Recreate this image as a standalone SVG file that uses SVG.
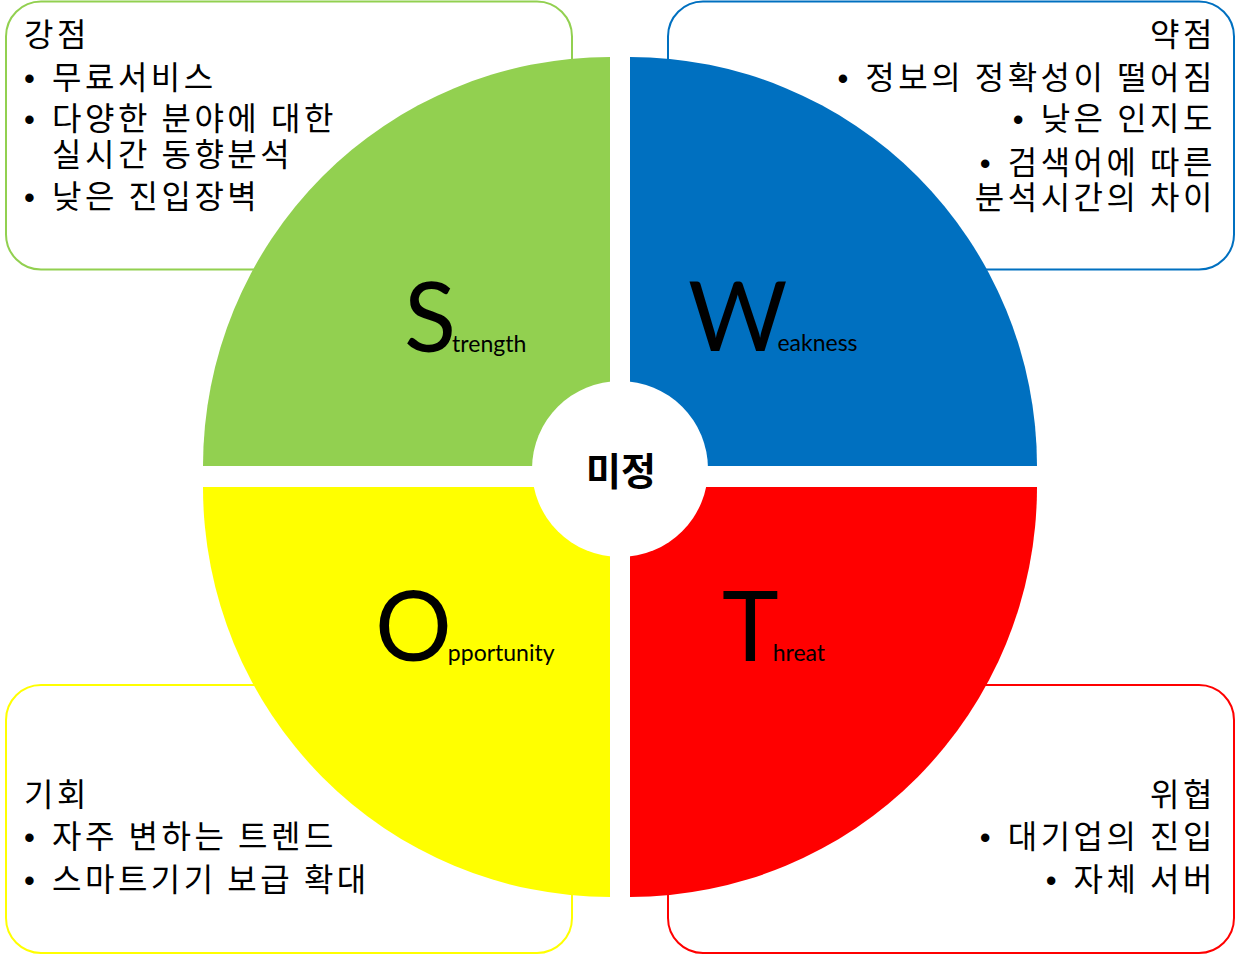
<svg xmlns="http://www.w3.org/2000/svg" width="1237" height="955" viewBox="0 0 1237 955">
  <style>
    .box { fill: #FFFFFF; stroke-width: 2; }
    .kr { font-family: "Noto Sans CJK KR", "Noto Sans", sans-serif; font-size: 32px; letter-spacing: 3.5px; fill: #000000; }
    .bul { font-family: "Liberation Sans", sans-serif; font-size: 31px; letter-spacing: 0px; fill: #000000; }
    .big { font-family: Lato, "Liberation Sans", sans-serif; font-size: 96px; fill: #000000; }
    .small { font-size: 23px; }
    .center { font-family: "Noto Sans CJK KR", sans-serif; font-size: 38px; font-weight: bold; fill: #000000; }
  </style>
  <rect width="1237" height="955" fill="#FFFFFF"/>

  <g id="box-strength">
    <rect class="box" x="6" y="1.5" width="566" height="268" rx="35" stroke="#92D050"/>
  </g>
  <g id="box-weakness">
    <rect class="box" x="668" y="1.5" width="566" height="268" rx="35" stroke="#0070C0"/>
  </g>
  <g id="box-opportunity">
    <rect class="box" x="6" y="685" width="566" height="268" rx="35" stroke="#FFFF00"/>
  </g>
  <g id="box-threat">
    <rect class="box" x="668" y="685" width="566" height="268" rx="35" stroke="#FF0000"/>
  </g>

  <g id="quad-strength">
    <path d="M610,466 L203,466 A407,409 0 0 1 610,57 Z" fill="#92D050"/>
    <text class="big" x="404" y="352">S<tspan class="small" dx="-4">trength</tspan></text>
  </g>
  <g id="quad-weakness">
    <path d="M630,466 L630,57 A407,409 0 0 1 1037,466 Z" fill="#0070C0"/>
    <text class="big" x="688" y="351">W<tspan class="small" dx="-10">eakness</tspan></text>
  </g>
  <g id="quad-opportunity">
    <path d="M610,487 L610,897 A407,410 0 0 1 203,487 Z" fill="#FFFF00"/>
    <text class="big" x="375" y="661">O<tspan class="small" dx="-4">pportunity</tspan></text>
  </g>
  <g id="quad-threat">
    <path d="M630,487 L1037,487 A407,410 0 0 1 630,897 Z" fill="#FF0000"/>
    <text class="big" x="722" y="661">T<tspan class="small" dx="-6">hreat</tspan></text>
  </g>

  <g id="center">
    <circle cx="620" cy="469" r="88" fill="#FFFFFF"/>
    <text class="center" x="621" y="485" text-anchor="middle">미정</text>
  </g>

  <g id="text-strength">
    <text class="kr" x="24" y="46">강점</text>
    <text class="bul" x="24" y="89">•</text>
    <text class="kr" x="52" y="89">무료서비스</text>
    <text class="bul" x="24" y="130">•</text>
    <text class="kr" x="52" y="130">다양한 분야에 대한</text>
    <text class="kr" x="52" y="166">실시간 동향분석</text>
    <text class="bul" x="24" y="208">•</text>
    <text class="kr" x="52" y="208">낮은 진입장벽</text>
  </g>

  <g id="text-weakness" text-anchor="end">
    <text class="kr" x="1216" y="46">약점</text>
    <text class="kr" x="1216" y="89"><tspan class="bul">•</tspan><tspan dx="17">정보의 정확성이 떨어짐</tspan></text>
    <text class="kr" x="1216" y="130"><tspan class="bul">•</tspan><tspan dx="17">낮은 인지도</tspan></text>
    <text class="kr" x="1216" y="174"><tspan class="bul">•</tspan><tspan dx="17">검색어에 따른</tspan></text>
    <text class="kr" x="1216" y="209">분석시간의 차이</text>
  </g>

  <g id="text-opportunity">
    <text class="kr" x="24" y="806">기회</text>
    <text class="bul" x="24" y="848">•</text>
    <text class="kr" x="52" y="848">자주 변하는 트렌드</text>
    <text class="bul" x="24" y="891">•</text>
    <text class="kr" x="52" y="891">스마트기기 보급 확대</text>
  </g>

  <g id="text-threat" text-anchor="end">
    <text class="kr" x="1216" y="806">위협</text>
    <text class="kr" x="1216" y="848"><tspan class="bul">•</tspan><tspan dx="17">대기업의 진입</tspan></text>
    <text class="kr" x="1216" y="891"><tspan class="bul">•</tspan><tspan dx="17">자체 서버</tspan></text>
  </g>
</svg>
